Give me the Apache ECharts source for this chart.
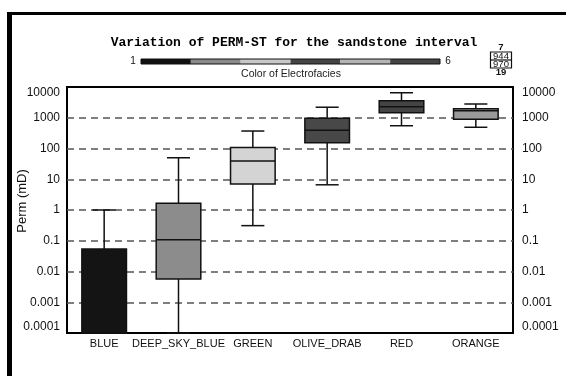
<!DOCTYPE html>
<html><head><meta charset="utf-8">
<script src="https://cdn.jsdelivr.net/npm/echarts@6/dist/echarts.min.js"></script>
<style>html,body{margin:0;padding:0;background:#fff}#c{width:566px;height:376px}</style>
</head><body><div id="c"></div>
<script>
// ---- data ----
const categories = ['BLUE', 'DEEP_SKY_BLUE', 'GREEN', 'OLIVE_DRAB', 'RED', 'ORANGE'];
const whiskerLow  = [0.0001, 0.0001, 0.31, 6.6, 550, 490];
const q1          = [0.0001, 0.0057, 7, 155, 1450, 890];
const median      = [0.0001, 0.107, 39, 390, 2300, 1700];
const q3          = [0.054, 1.65, 107, 960, 3600, 1970];
const whiskerHigh = [1.0, 50, 370, 2200, 6500, 2800];
const boxColors = ['#141414', '#8c8c8c', '#d4d4d4', '#484848', '#444444', '#9a9a9a'];
const tickLabels = ['0.0001', '0.001', '0.01', '0.1', '1', '10', '100', '1000', '10000'];
const colorbarColors = ['#111111', '#8a8a8a', '#c8c8c8', '#444444', '#b4b4b4', '#444444'];
const colorbarEnds = ['1', '6'];
const countTop = '7';
const countBox = ['944', '970'];
const countBottom = '19';

const boxData = categories.map((c, i) => [i, whiskerLow[i], q1[i], median[i], q3[i], whiskerHigh[i]]);

function fmt(v) {
  const idx = Math.round(Math.log10(v)) + 4;
  return tickLabels[idx] !== undefined ? tickLabels[idx] : '';
}

const chart = echarts.init(document.getElementById('c'), null, { renderer: 'canvas' });

const cbX0 = 141, cbX1 = 440, cbY = 59, cbH = 5;
const segW = (cbX1 - cbX0) / colorbarColors.length;
const graphics = [];
// outer frame (partial, as in reference)
graphics.push({ type: 'line', shape: { x1: 9.5, y1: 12, x2: 9.5, y2: 376 }, style: { stroke: '#000', lineWidth: 5 } });
graphics.push({ type: 'line', shape: { x1: 7, y1: 13.5, x2: 566, y2: 13.5 }, style: { stroke: '#000', lineWidth: 3 } });
colorbarColors.forEach((col, i) => {
  graphics.push({ type: 'rect', shape: { x: cbX0 + i * segW, y: cbY, width: segW, height: cbH }, style: { fill: col } });
});
graphics.push({ type: 'rect', shape: { x: cbX0, y: cbY, width: cbX1 - cbX0, height: cbH }, style: { fill: null, stroke: '#111', lineWidth: 1 } });
graphics.push({ type: 'text', x: 133, y: 61.5, style: { text: colorbarEnds[0], fontSize: 10, fontFamily: 'Liberation Sans', fill: '#111', align: 'center', verticalAlign: 'middle' } });
graphics.push({ type: 'text', x: 448, y: 61.5, style: { text: colorbarEnds[1], fontSize: 10, fontFamily: 'Liberation Sans', fill: '#111', align: 'center', verticalAlign: 'middle' } });
graphics.push({ type: 'text', x: 291, y: 74, style: { text: 'Color of Electrofacies', fontSize: 10.5, fontFamily: 'Liberation Sans', fill: '#222', align: 'center', verticalAlign: 'middle' } });
// count box
graphics.push({ type: 'text', x: 501, y: 47.5, style: { text: countTop, fontSize: 9.5, fontFamily: 'Liberation Sans', fontWeight: 'bold', fill: '#111', align: 'center', verticalAlign: 'middle' } });
graphics.push({ type: 'rect', shape: { x: 490.5, y: 52, width: 21, height: 16 }, style: { fill: null, stroke: '#111', lineWidth: 1.2 } });
graphics.push({ type: 'line', shape: { x1: 490.5, y1: 60, x2: 511.5, y2: 60 }, style: { stroke: '#111', lineWidth: 1.2 } });
graphics.push({ type: 'text', x: 501, y: 56.3, style: { text: countBox[0], fontSize: 9.5, fontFamily: 'Liberation Sans', fill: '#111', align: 'center', verticalAlign: 'middle' } });
graphics.push({ type: 'text', x: 501, y: 64.3, style: { text: countBox[1], fontSize: 9.5, fontFamily: 'Liberation Sans', fill: '#111', align: 'center', verticalAlign: 'middle' } });
graphics.push({ type: 'text', x: 501, y: 72.5, style: { text: countBottom, fontSize: 9.5, fontFamily: 'Liberation Sans', fontWeight: 'bold', fill: '#111', align: 'center', verticalAlign: 'middle' } });

const yAxisCommon = {
  type: 'log', logBase: 10, min: 0.0001, max: 10000, interval: 1,
  axisLine: { show: false }, axisTick: { show: false },
  axisLabel: {
    formatter: fmt, fontSize: 12, fontFamily: 'Liberation Sans', color: '#111',
    verticalAlignMinLabel: 'bottom', verticalAlignMaxLabel: 'top'
  }
};

const option = {
  backgroundColor: '#fff',
  animation: false,
  title: {
    text: 'Variation of PERM-ST for the sandstone interval',
    left: 289, top: 31, textAlign: 'center',
    textStyle: { fontFamily: 'Liberation Mono', fontWeight: 'bold', fontSize: 13, color: '#000' }
  },
  grid: {
    left: 67, right: 53, top: 87, bottom: 43, containLabel: false, outerBoundsMode: 'none',
    show: true, borderColor: '#000', borderWidth: 2, backgroundColor: 'transparent'
  },
  xAxis: {
    type: 'category', data: categories, boundaryGap: true,
    axisLine: { show: false }, axisTick: { show: false }, splitLine: { show: false },
    axisLabel: { fontSize: 11, fontFamily: 'Liberation Sans', color: '#111', margin: 5, interval: 0 }
  },
  yAxis: [
    Object.assign({}, yAxisCommon, {
      position: 'left',
      name: 'Perm (mD)', nameLocation: 'middle', nameGap: 38, nameRotate: 90, nameMoveOverlap: false,
      nameTextStyle: { fontSize: 13, fontFamily: 'Liberation Sans', color: '#111', padding: [0, 0, 0, 18] },
      axisLabel: Object.assign({}, yAxisCommon.axisLabel, { margin: 7 }),
      splitLine: { show: true, showMinLine: false, showMaxLine: false, lineStyle: { color: '#555', width: 1.5, type: [7, 5] } }
    }),
    Object.assign({}, yAxisCommon, {
      position: 'right',
      axisLabel: Object.assign({}, yAxisCommon.axisLabel, { margin: 9 }),
      splitLine: { show: false }
    })
  ],
  series: [{
    type: 'custom',
    xAxisIndex: 0, yAxisIndex: 0,
    data: boxData,
    encode: { x: 0, y: [1, 2, 3, 4, 5] },
    z: 10,
    renderItem: function (params, api) {
      const i = api.value(0);
      const band = api.size([1, 0])[0];
      const hw = band * 0.3;
      const cw = band * 0.155;
      const x = api.coord([i, api.value(3)])[0];
      const yLow = api.coord([i, api.value(1)])[1];
      const yQ1 = api.coord([i, api.value(2)])[1];
      const yMed = api.coord([i, api.value(3)])[1];
      const yQ3 = api.coord([i, api.value(4)])[1];
      const yHigh = api.coord([i, api.value(5)])[1];
      const ls = { stroke: '#111', lineWidth: 1.5 };
      return {
        type: 'group',
        children: [
          { type: 'line', shape: { x1: x, y1: yQ1, x2: x, y2: yLow }, style: ls },
          { type: 'line', shape: { x1: x, y1: yQ3, x2: x, y2: yHigh }, style: ls },
          { type: 'line', shape: { x1: x - cw, y1: yLow, x2: x + cw, y2: yLow }, style: ls },
          { type: 'line', shape: { x1: x - cw, y1: yHigh, x2: x + cw, y2: yHigh }, style: ls },
          { type: 'rect', shape: { x: x - hw, y: yQ3, width: 2 * hw, height: yQ1 - yQ3 }, style: { fill: boxColors[i], stroke: '#111', lineWidth: 1.5 } },
          { type: 'line', shape: { x1: x - hw, y1: yMed, x2: x + hw, y2: yMed }, style: ls }
        ]
      };
    }
  }],
  graphic: graphics
};
chart.setOption(option);
</script>
</body></html>
